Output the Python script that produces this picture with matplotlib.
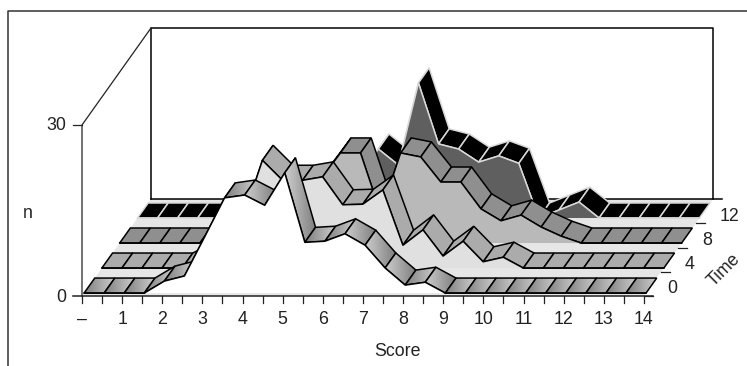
import numpy as np
import matplotlib
matplotlib.use('Agg')
import matplotlib.pyplot as plt
from matplotlib.patches import Polygon

plt.rcParams['font.family'] = ['Liberation Sans', 'DejaVu Sans']

# values, one ribbon per time, half score steps
score_labels = ['–', '1', '2', '3', '4', '5', '6', '7', '8', '9', '10', '11', '12', '13', '14']
time_labels = ['0', '4', '8', '12']
time0 = [0, 0, 0, 0, 2.1, 3.0, 9.8, 16.7, 17.2, 15.4, 21.1, 8.9, 9.1, 10.4, 8.4, 4.4, 1.4, 1.9,
         0, 0, 0, 0, 0, 0, 0, 0, 0, 0, 0]
time4 = [0, 0, 0, 0, 0, 1.8, 4.4, 8.4, 18.9, 15.4, 15.4, 16.0, 11.1, 11.2, 13.7, 4.0, 6.7, 2.1,
         4.7, 1.1, 1.9, 0, 0, 0, 0, 0, 0, 0, 0]
time8 = [0, 0, 0, 0, 0, 0, 0, 0.9, 3.5, 7.0, 11.1, 15.8, 15.8, 5.3, 15.8, 15.1, 10.7, 10.7,
         6.0, 3.9, 4.9, 2.8, 1.2, 0, 0, 0, 0, 0, 0]
time12 = [0, 0, 0, 0, 0, 0, 0, 0, 0, 1.4, 3.2, 6.7, 12.1, 9.3, 23.7, 13.0, 12.1, 9.8,
          10.9, 9.6, 0, 1.4, 2.8, 0, 0, 0, 0, 0, 0]
series = [time0, time4, time8, time12]

# projection of the box, in pixels
X0, Y0 = 82, 296
STEP = 20.07
DX, DY = 69, -97
UNIT = 5.7
N_MAX = 30

fronts = [0.03, 0.288, 0.546, 0.804]
WIDTH = 0.155

face_cols = ['white', '#e0e0e0', '#b9b9b9', '#5f5f5f']
top_cols = [None, '#ababab', '#8f8f8f', 'black']
edge_cols = ['black', 'black', 'black', '#d9d9d9']
TXT = '#222222'
FS = 12.8


def proj(i, n, d):
    return X0 + STEP * i + DX * d, Y0 + DY * d - UNIT * n


fig = plt.figure(figsize=(7.47, 3.66), dpi=100)
ax = fig.add_axes([0, 0, 1, 1])
z = 1

# outer rule
ax.plot([8, 8, 747], [366, 11, 11], color='#333333', lw=1.1, zorder=z)

# floor
floor = [proj(0, 0, 0), proj(0, 0, 1), proj(28, 0, 1), proj(28, 0, 0)]
ax.add_patch(Polygon(floor, closed=True, fc='#e6e6e6', ec='none', zorder=z))

# walls
xa, ya = proj(0, 0, 1)
xb, yb = proj(28, 0, 1)
ax.plot([xa, xa, xb, xb], [ya, ya - UNIT * N_MAX, ya - UNIT * N_MAX, yb], color='black', lw=1.1, zorder=z)
ax.plot([xa, xb + 9], [ya, yb], color='black', lw=1.1, zorder=z)
xl, yl = proj(0, N_MAX, 0)
ax.plot([X0, X0, xa], [Y0, yl, ya - UNIT * N_MAX], color=TXT, lw=0.9, zorder=z)

# back ribbon first, front one last
for k in [3, 2, 1, 0]:
    z += 1
    vals = series[k]
    f = fronts[k]
    b = f + WIDTH
    for i in range(len(vals) - 1):
        z += 1
        cell = [proj(i, vals[i], f), proj(i, vals[i], b), proj(i + 1, vals[i + 1], b), proj(i + 1, vals[i + 1], f)]
        if top_cols[k] is None:
            # front ribbon has a shaded top, it turns round on falling cells
            poly = Polygon(cell, closed=True, fc='none', ec='none', zorder=z)
            ax.add_patch(poly)
            xs = [p[0] for p in cell]
            ys = [p[1] for p in cell]
            shade = np.linspace(0, 1, 32)
            if vals[i + 1] < vals[i]:
                shade = shade[::-1]
            im = ax.imshow(shade.reshape(1, -1), cmap='gray', vmin=-1.667, vmax=1.667,
                           extent=[min(xs), max(xs), max(ys), min(ys)], aspect='auto', zorder=z)
            im.set_clip_path(poly)
            ax.add_patch(Polygon(cell, closed=True, fc='none', ec=edge_cols[k], lw=1.1, zorder=z))
        else:
            ax.add_patch(Polygon(cell, closed=True, fc=top_cols[k], ec=edge_cols[k], lw=1.1, zorder=z))
    z += 1
    pts = [proj(i, vals[i], f) for i in range(len(vals))]
    face = [proj(0, 0, f)] + pts + [proj(len(vals) - 1, 0, f)]
    ax.add_patch(Polygon(face, closed=True, fc=face_cols[k], ec='none', zorder=z))
    ax.plot([p[0] for p in pts], [p[1] for p in pts], color=edge_cols[k], lw=1.1, zorder=z)

z += 1
# front floor line and ticks
ax.plot([X0 - 9, X0 + STEP * 28 + 9], [Y0, Y0], color=TXT, lw=1.1, zorder=z)
for i in range(29):
    ax.plot([X0 + STEP * i] * 2, [Y0, Y0 + 7], color=TXT, lw=0.9, zorder=z)
for i, lab in enumerate(score_labels):
    ax.text(X0 + STEP * 2 * i, 319.5, lab, ha='center', va='center', fontsize=FS, color=TXT, zorder=z)

# value axis
ax.plot([X0 - 9, X0], [yl, yl], color=TXT, lw=0.9, zorder=z)
ax.text(X0 - 16, yl, '30', ha='right', va='center', fontsize=FS, color=TXT, zorder=z)
ax.text(X0 - 16, Y0 + 1, '0', ha='right', va='center', fontsize=FS, color=TXT, zorder=z)
ax.text(28, 213, 'n', ha='center', va='center', fontsize=FS, color=TXT, zorder=z)
ax.text(397, 351, 'Score', ha='center', va='center', fontsize=FS, color=TXT, zorder=z)

# time axis
for k, lab in enumerate(time_labels):
    d = k / 4
    x1, y1 = proj(28, 0, d)
    ax.plot([x1, x1 + 9], [y1, y1], color=TXT, lw=0.9, zorder=z)
    xt, yt = proj(28, 0, d + 0.125)
    ax.text(xt + 15, yt + 5, lab, ha='left', va='center', fontsize=FS, color=TXT, zorder=z)
ax.text(724, 270, 'Time', ha='center', va='center', rotation=45, fontsize=FS, color=TXT, zorder=z)

ax.set_xlim(0, 747)
ax.set_ylim(366, 0)
ax.axis('off')
fig.savefig('out.png', dpi=100)
